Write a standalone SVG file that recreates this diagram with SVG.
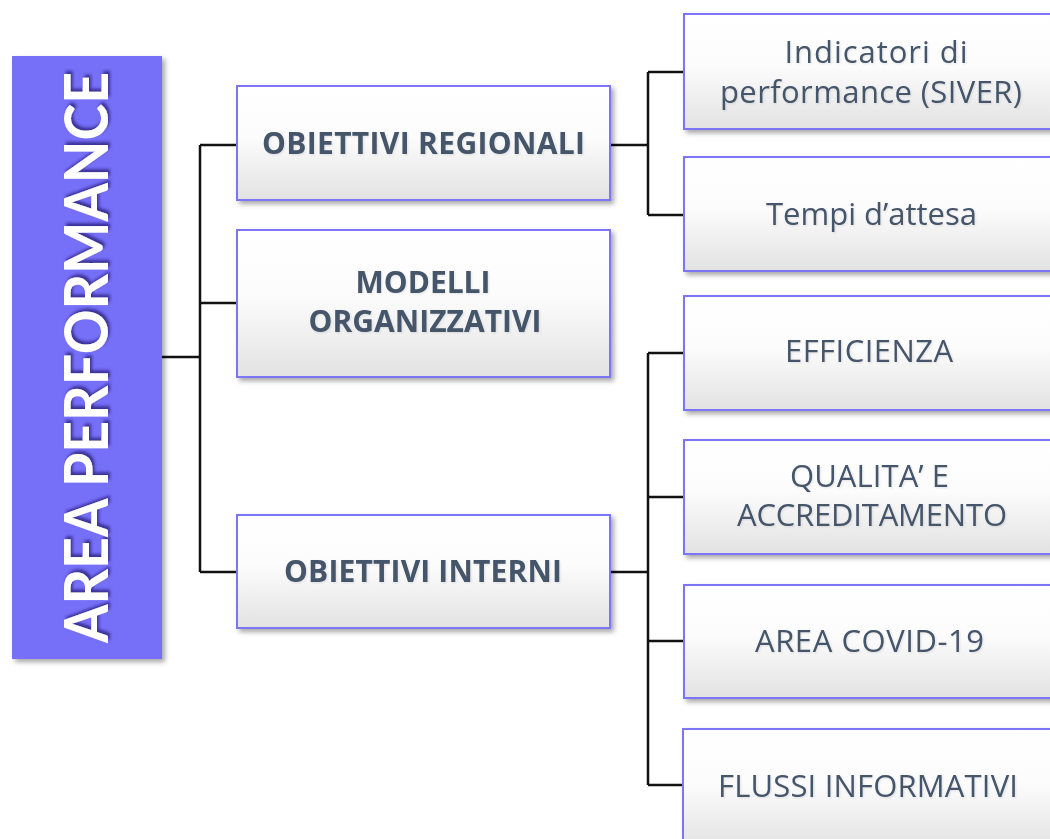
<svg xmlns="http://www.w3.org/2000/svg" width="1050" height="839" viewBox="0 0 1050 839">
<style>
.box{fill:url(#g);stroke:#7B74F6;stroke-width:2;filter:url(#sh)}
.t{font-family:"Open Sans",Lato,sans-serif;font-size:31px;fill:#44546A;text-anchor:middle;filter:url(#ls)}
.b{font-weight:bold;font-size:30px}
.c{fill:none;stroke:#111;stroke-width:2.5}
</style>
<defs>
<linearGradient id="g" x1="0" y1="0" x2="0" y2="1">
<stop offset="0" stop-color="#ffffff"/>
<stop offset="0.45" stop-color="#fcfcfc"/>
<stop offset="1" stop-color="#e2e2e2"/>
</linearGradient>
<filter id="sh" x="-10%" y="-10%" width="130%" height="140%">
<feDropShadow dx="3" dy="3" stdDeviation="2.5" flood-color="#000" flood-opacity="0.35"/>
</filter>
<filter id="ls" x="-10%" y="-20%" width="130%" height="150%">
<feDropShadow dx="1" dy="1" stdDeviation="1" flood-color="#000" flood-opacity="0.1"/>
</filter>
<filter id="ts" x="-10%" y="-10%" width="130%" height="130%">
<feDropShadow dx="3" dy="2" stdDeviation="1.5" flood-color="#2a2380" flood-opacity="0.8"/>
</filter>
</defs>
<rect width="1050" height="839" fill="#fff"/>
<g id="connectors">
<path class="c" d="M162 357H200M200 145V572M200 145H237M200 303H237M200 572H237"/>
<path class="c" d="M610 145H648M648 72V215M648 72H684M648 215H684"/>
<path class="c" d="M610 572H648M648 353V785M648 353H684M648 497H684M648 641H684M648 785H684"/>
</g>
<g id="area-performance">
<rect x="12" y="56" width="150" height="603" fill="#7670F8" filter="url(#sh)"/>
<text transform="translate(108 643) rotate(-90)" font-family="Lato,'Liberation Sans',sans-serif" font-weight="bold" font-size="62" fill="#fff" textLength="571" lengthAdjust="spacingAndGlyphs" filter="url(#ts)">AREA PERFORMANCE</text>
</g>
<g id="obiettivi-regionali">
<rect class="box" x="237" y="86" width="373" height="114"/>
<text class="t b" x="423.5" y="154" textLength="323">OBIETTIVI REGIONALI</text>
</g>
<g id="modelli-organizzativi">
<rect class="box" x="237" y="230" width="373" height="147"/>
<text class="t b" x="423" y="293" textLength="135">MODELLI</text>
<text class="t b" x="425" y="332" textLength="233">ORGANIZZATIVI</text>
</g>
<g id="obiettivi-interni">
<rect class="box" x="237" y="515" width="373" height="113"/>
<text class="t b" x="423" y="582" textLength="278">OBIETTIVI INTERNI</text>
</g>
<g id="indicatori">
<rect class="box" x="684" y="14" width="373" height="115"/>
<text class="t" x="876" y="63" textLength="183">Indicatori di</text>
<text class="t" x="871" y="103" textLength="302">performance (SIVER)</text>
</g>
<g id="tempi">
<rect class="box" x="684" y="157" width="373" height="114"/>
<text class="t" x="871.5" y="225" textLength="211">Tempi d’attesa</text>
</g>
<g id="efficienza">
<rect class="box" x="684" y="296" width="373" height="114"/>
<text class="t" x="869" y="362" textLength="168">EFFICIENZA</text>
</g>
<g id="qualita">
<rect class="box" x="684" y="440" width="373" height="114"/>
<text class="t" x="869.5" y="487" textLength="159">QUALITA’ E</text>
<text class="t" x="872" y="526" textLength="270">ACCREDITAMENTO</text>
</g>
<g id="covid">
<rect class="box" x="684" y="585" width="373" height="113"/>
<text class="t" x="869.5" y="652" textLength="229">AREA COVID-19</text>
</g>
<g id="flussi">
<rect class="box" x="683" y="729" width="374" height="120"/>
<text class="t" x="868" y="797" textLength="300">FLUSSI INFORMATIVI</text>
</g>
</svg>
